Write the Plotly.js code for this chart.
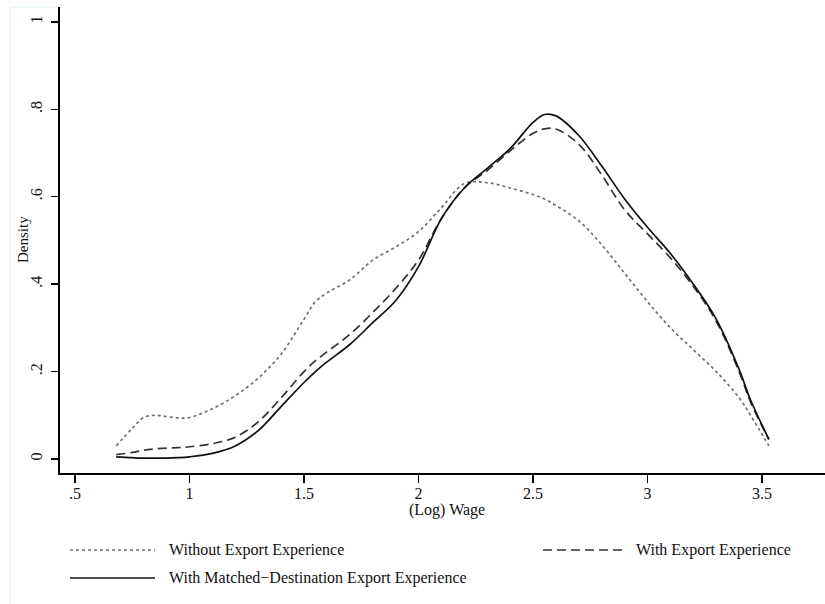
<!DOCTYPE html>
<html>
<head>
<meta charset="utf-8">
<script src="https://cdn.plot.ly/plotly-3.0.1.min.js"></script>
<style>html,body{margin:0;padding:0;background:#fff;}#chart{width:825px;height:604px;}</style>
</head>
<body>
<div id="chart"></div>
<script>
// (Log) wage grid
const wage = [0.68,0.75,0.8,0.85,0.9,0.95,1.0,1.1,1.2,1.3,1.4,1.5,1.55,1.6,1.7,1.8,1.9,2.0,2.1,2.2,2.3,2.4,2.5,2.55,2.6,2.7,2.8,2.9,3.0,3.1,3.2,3.3,3.4,3.45,3.53];
// Densities
const withoutExport = [0.03,0.07,0.095,0.10,0.097,0.094,0.095,0.115,0.145,0.185,0.24,0.32,0.36,0.38,0.41,0.455,0.485,0.52,0.575,0.63,0.632,0.62,0.605,0.595,0.58,0.545,0.49,0.425,0.36,0.30,0.25,0.20,0.14,0.10,0.03];
const withExport = [0.01,0.015,0.02,0.023,0.025,0.026,0.028,0.035,0.05,0.085,0.14,0.2,0.225,0.245,0.285,0.335,0.39,0.455,0.55,0.62,0.66,0.705,0.745,0.755,0.755,0.72,0.65,0.57,0.515,0.46,0.395,0.315,0.2,0.13,0.045];
const withMatched = [0.005,0.003,0.002,0.002,0.002,0.003,0.005,0.013,0.03,0.065,0.12,0.175,0.2,0.222,0.262,0.312,0.362,0.44,0.55,0.62,0.665,0.71,0.77,0.788,0.785,0.74,0.67,0.595,0.53,0.47,0.40,0.32,0.205,0.135,0.045];

const seriesNames = ["Without Export Experience","With Export Experience","With Matched\u2212Destination Export Experience"];
const xTickVals = [0.5,1,1.5,2,2.5,3,3.5];
const xTickText = [".5","1","1.5","2","2.5","3","3.5"];
const yTickVals = [0,0.2,0.4,0.6,0.8,1];
const yTickText = ["0",".2",".4",".6",".8","1"];
const xTitle = "(Log) Wage";
const yTitle = "Density";

const font = "Liberation Serif, Times New Roman, serif";
const styles = [
  {color:"#707070", dash:"3px,3px", width:1.7},
  {color:"#333333", dash:"9px,5px", width:1.7},
  {color:"#111111", dash:"solid", width:1.7}
];
const ys = [withoutExport, withExport, withMatched];

const traces = ys.map((y,i)=>({
  x: wage, y: y, type:"scatter", mode:"lines", name: seriesNames[i],
  line:{color:styles[i].color, dash:styles[i].dash, width:styles[i].width, shape:"spline", smoothing:1},
  showlegend:false, hoverinfo:"skip"
}));

// plot area geometry in px (for legend placement below plot)
const L=60, R=825, T=7, B=473;
const px2x = p => (p-L)/(R-L);
const py2y = p => (B-p)/(B-T);

const legendItems = [
  {x0:70, x1:155, y:550, tx:167},
  {x0:543, x1:625, y:550, tx:634},
  {x0:70, x1:155, y:578, tx:167}
];
const shapes = [];
const annotations = [];
legendItems.forEach((it,i)=>{
  shapes.push({type:"line", xref:"paper", yref:"paper", x0:px2x(it.x0), x1:px2x(it.x1), y0:py2y(it.y), y1:py2y(it.y),
    line:{color:styles[i].color, dash:styles[i].dash, width:styles[i].width}});
  annotations.push({xref:"paper", yref:"paper", x:px2x(it.tx), y:py2y(it.y), xanchor:"left", yanchor:"middle",
    text:seriesNames[i], showarrow:false, font:{family:font, size:16, color:"#111"}});
});
// axis titles
annotations.push({xref:"paper", yref:"paper", x:px2x(447), y:py2y(510), xanchor:"center", yanchor:"middle",
  text:xTitle, showarrow:false, font:{family:font, size:16, color:"#111"}});
annotations.push({xref:"paper", yref:"paper", x:px2x(23), y:py2y(240), xanchor:"center", yanchor:"middle", textangle:-90,
  text:yTitle, showarrow:false, font:{family:font, size:15, color:"#111"}});
// faint graph-region outline
shapes.push({type:"line", xref:"paper", yref:"paper", x0:px2x(10), x1:px2x(10), y0:py2y(7), y1:py2y(604), line:{color:"#dcefef", width:1}});
shapes.push({type:"line", xref:"paper", yref:"paper", x0:px2x(10), x1:px2x(57), y0:py2y(7), y1:py2y(7), line:{color:"#dcefef", width:1}});

const layout = {
  width:825, height:604,
  margin:{l:L, r:825-R, t:T, b:604-B, pad:0},
  paper_bgcolor:"#fff", plot_bgcolor:"#fff",
  showlegend:false,
  font:{family:font, size:16, color:"#111"},
  xaxis:{
    range:[0.4345, 3.775], tickmode:"array", tickvals:xTickVals, ticktext:xTickText,
    showgrid:false, zeroline:false, showline:true, linecolor:"#000", linewidth:1.6,
    ticks:"outside", ticklen:8, tickwidth:1.4, tickcolor:"#000",
    ticklabelstandoff:-3,
    tickfont:{family:font, size:16, color:"#111"},
    automargin:false
  },
  yaxis:{
    range:[-0.032, 1.034], tickmode:"array", tickvals:yTickVals, ticktext:yTickText,
    showgrid:false, zeroline:false, showline:true, linecolor:"#000", linewidth:1.6,
    ticks:"outside", ticklen:7, tickwidth:1.4, tickcolor:"#000", tickangle:-90,
    ticklabelstandoff:3,
    tickfont:{family:font, size:16, color:"#111"},
    automargin:false
  },
  shapes: shapes,
  annotations: annotations
};

Plotly.newPlot("chart", traces, layout, {displayModeBar:false, staticPlot:true});
</script>
</body>
</html>
